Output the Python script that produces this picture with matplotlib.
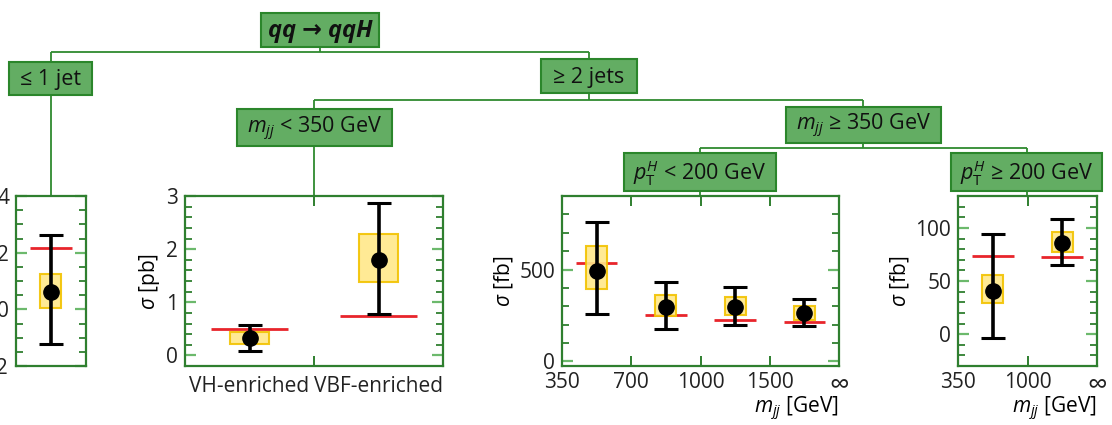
import matplotlib
matplotlib.use("Agg")
import matplotlib.pyplot as plt
from matplotlib.patches import Rectangle
import numpy as np

plt.rcParams['font.family'] = ['Open Sans', 'DejaVu Sans']
plt.rcParams['mathtext.fontset'] = 'custom'
plt.rcParams['mathtext.rm'] = 'Open Sans'
plt.rcParams['mathtext.it'] = 'Open Sans:italic'
plt.rcParams['mathtext.bf'] = 'Open Sans:bold'

# ---- measured cross sections ------------------------------------------------
# <=1 jet  [pb]
le1_val = [0.62]
le1_tot_lo = [-1.22]
le1_tot_hi = [2.64]
le1_stat_lo = [0.05]
le1_stat_hi = [1.24]
le1_pred = [2.17]

# >=2 jets, mjj < 350 GeV  [pb]
low_cats = ["VH-enriched", "VBF-enriched"]
low_val = [0.33, 1.79]
low_tot_lo = [0.08, 0.77]
low_tot_hi = [0.58, 2.86]
low_stat_lo = [0.22, 1.38]
low_stat_hi = [0.44, 2.28]
low_pred = [0.50, 0.74]

# >=2 jets, mjj >= 350 GeV, pT(H) < 200 GeV  [fb]
mid_edges = ["350", "700", "1000", "1500", "∞"]
mid_val = [493, 296, 296, 264]
mid_tot_lo = [256, 175, 196, 191]
mid_tot_hi = [756, 433, 405, 342]
mid_stat_lo = [394, 245, 251, 227]
mid_stat_hi = [627, 360, 351, 302]
mid_pred = [533, 255, 224, 215]

# >=2 jets, mjj >= 350 GeV, pT(H) >= 200 GeV  [fb]
hi_edges = ["350", "1000", "∞"]
hi_val = [41, 86]
hi_tot_lo = [-4, 65]
hi_tot_hi = [94, 108]
hi_stat_lo = [29, 77]
hi_stat_hi = [56, 96]
hi_pred = [74, 73]

# ---- style ------------------------------------------------------------------
W, H = 1112, 425
SPINE = '#2f7f2f'
MAJ = '#6cb96c'
BOX_FACE = '#63ad63'
BOX_EDGE = '#2b862b'
LINE = '#2f8a2f'
YEL_FACE = '#ffe88a'
YEL_EDGE = '#f2c200'
RED = '#e8252b'
FS = 15
FS_NODE = 15.5

fig = plt.figure(figsize=(W / 100, H / 100), dpi=100)

# full-figure layer for the selection tree
tree = fig.add_axes([0, 0, 1, 1], zorder=0)
tree.set_xlim(0, W)
tree.set_ylim(H, 0)
tree.axis('off')


def node(x0, x1, y0, y1, text, size=FS_NODE, **kw):
    tree.add_patch(Rectangle((x0, y0), x1 - x0, y1 - y0, facecolor=BOX_FACE,
                             edgecolor=BOX_EDGE, lw=1.5, zorder=3))
    tree.text((x0 + x1) / 2, (y0 + y1) / 2 + 1, text, ha='center', va='center',
              fontsize=size, color='#111111', zorder=4, **kw)


def seg(xs, ys):
    tree.plot(xs, ys, color=LINE, lw=1.3, zorder=2, solid_capstyle='butt')


# connectors
seg([320, 320], [47, 52])
seg([50.7, 589], [52, 52])
seg([50.7, 50.7], [52, 197])
seg([589, 589], [52, 100])
seg([314, 863], [100, 100])
seg([314, 314], [100, 197])
seg([863, 863], [100, 147.5])
seg([700, 1027], [147.5, 147.5])
seg([700, 700], [147.5, 197])
seg([1027, 1027], [147.5, 197])

node(261, 379, 13, 47, "qq → qqH", size=17, fontweight='bold', style='italic')
node(9, 92, 62, 95, "≤ 1 jet")
node(541, 637, 59, 93, "≥ 2 jets")
node(237, 392, 109, 146, r"$m_{jj}$ < 350 GeV")
node(786, 941, 107, 143, r"$m_{jj}$ ≥ 350 GeV")
node(624, 776, 153, 191, r"$p_\mathrm{T}^{H}$ < 200 GeV")
node(951, 1102, 153, 191, r"$p_\mathrm{T}^{H}$ ≥ 200 GeV")


def panel(x0, x1):
    top, bot = 196, 366
    ax = fig.add_axes([x0 / W, (H - bot) / H, (x1 - x0) / W, (bot - top) / H], zorder=5)
    for s in ax.spines.values():
        s.set_color(SPINE)
        s.set_linewidth(1.6)
    ax.tick_params(axis='y', which='major', direction='in', left=True, right=True,
                   length=8, width=1.6, color=MAJ, labelsize=FS, pad=5)
    ax.tick_params(axis='y', which='minor', direction='in', left=True, right=True,
                   length=5, width=1.3, color=SPINE)
    ax.tick_params(axis='x', which='both', direction='in', top=True, bottom=True,
                   length=7, width=1.4, color=SPINE, labelsize=FS, pad=4)
    return ax


def draw(ax, x, val, tlo, thi, slo, shi, pred):
    x = np.asarray(x, float)
    val = np.asarray(val, float)
    tlo, thi = np.asarray(tlo, float), np.asarray(thi, float)
    slo, shi = np.asarray(slo, float), np.asarray(shi, float)
    ax.hlines(pred, x - 0.3, x + 0.3, colors=RED, lw=2, zorder=2)
    ax.bar(x, shi - slo, bottom=slo, width=0.3, facecolor=YEL_FACE, edgecolor=YEL_EDGE,
           lw=1.5, alpha=0.9, zorder=3)
    ax.errorbar(x, val, yerr=[val - tlo, thi - val], fmt='o', color='black', ms=11,
                elinewidth=2.6, capsize=8.5, capthick=2.2, zorder=4)


def mjj_label(ax):
    ax.set_xlabel(r"$m_{jj}$ [GeV]", fontsize=FS, ha='right', va='center')
    ax.xaxis.set_label_coords(1.0, -0.25)


# <=1 jet
ax1 = panel(16, 86)
draw(ax1, [0], le1_val, le1_tot_lo, le1_tot_hi, le1_stat_lo, le1_stat_hi, le1_pred)
ax1.set_xlim(-0.5, 0.5)
ax1.set_ylim(-2, 4)
ax1.set_yticks([-2, 0, 2, 4])
ax1.set_yticks(np.arange(-2, 4.01, 0.5), minor=True)
ax1.set_xticks([])

# mjj < 350
ax2 = panel(185, 443)
draw(ax2, [0, 1], low_val, low_tot_lo, low_tot_hi, low_stat_lo, low_stat_hi, low_pred)
ax2.set_xlim(-0.5, 1.5)
ax2.set_ylim(-0.2, 3)
ax2.set_yticks([0, 1, 2, 3])
ax2.set_yticks(np.arange(0, 3.01, 0.2), minor=True)
ax2.set_xticks([0, 1])
ax2.set_xticklabels(low_cats)
ax2.set_xticks([0.5], minor=True)
ax2.tick_params(axis='x', which='major', length=0, pad=7)
ax2.set_ylabel(r"$\sigma$ [pb]", fontsize=FS, labelpad=3)

# mjj >= 350, pT < 200
ax3 = panel(562, 839)
draw(ax3, np.arange(len(mid_val)) + 0.5, mid_val, mid_tot_lo, mid_tot_hi,
     mid_stat_lo, mid_stat_hi, mid_pred)
ax3.set_xlim(0, len(mid_val))
ax3.set_ylim(-25, 900)
ax3.set_yticks([0, 500])
ax3.set_yticks(np.arange(0, 901, 100), minor=True)
ax3.set_xticks(np.arange(len(mid_edges)))
ax3.set_xticklabels(mid_edges)
ax3.set_ylabel(r"$\sigma$ [fb]", fontsize=FS, labelpad=3)
mjj_label(ax3)

# mjj >= 350, pT >= 200
ax4 = panel(958, 1097)
draw(ax4, np.arange(len(hi_val)) + 0.5, hi_val, hi_tot_lo, hi_tot_hi,
     hi_stat_lo, hi_stat_hi, hi_pred)
ax4.set_xlim(0, len(hi_val))
ax4.set_ylim(-30, 130)
ax4.set_yticks([0, 50, 100])
ax4.set_yticks(np.arange(-30, 131, 10), minor=True)
ax4.set_xticks(np.arange(len(hi_edges)))
ax4.set_xticklabels(hi_edges)
ax4.set_ylabel(r"$\sigma$ [fb]", fontsize=FS, labelpad=3)
mjj_label(ax4)

for ax in (ax1, ax2, ax3, ax4):
    for lab in ax.get_yticklabels() + ax.get_xticklabels():
        lab.set_color('#222222')
        if lab.get_text() == "∞":
            lab.set_fontsize(20)

fig.savefig("out.png", dpi=100)
